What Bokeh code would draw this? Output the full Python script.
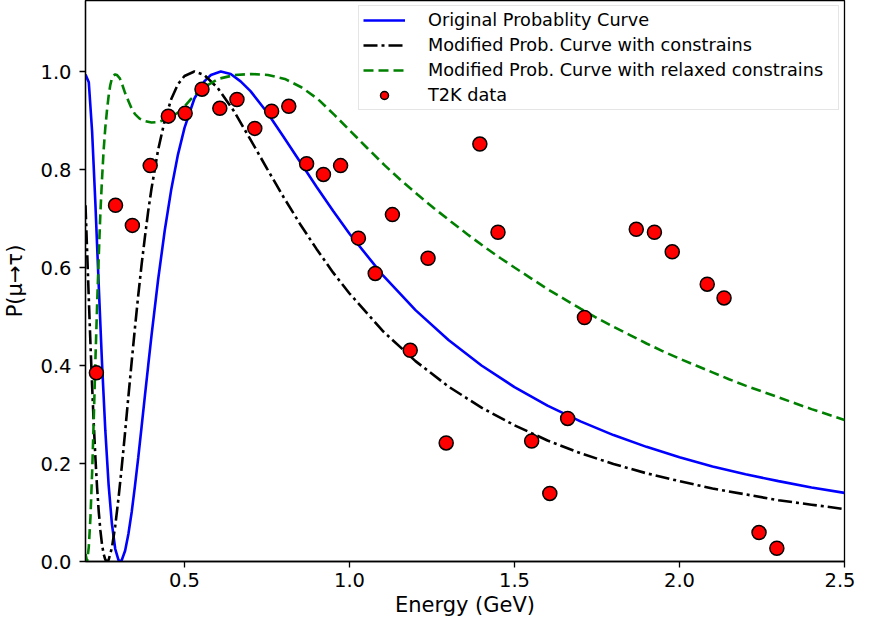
from bokeh.plotting import figure
from bokeh.models import FixedTicker, Range1d, PrintfTickFormatter
from bokeh.embed import file_html
from bokeh.resources import INLINE

# ---- data ----
energy_orig = [0.20, 0.21, 0.22, 0.23, 0.24, 0.25, 0.26, 0.27, 0.28, 0.29, 0.30, 0.305, 0.31,
               0.32, 0.33, 0.34, 0.35, 0.36, 0.37, 0.38, 0.39, 0.40, 0.42, 0.44, 0.46, 0.48,
               0.50, 0.53, 0.56, 0.58, 0.61, 0.64, 0.67, 0.70, 0.75, 0.80, 0.85, 0.90, 0.95,
               1.00, 1.10, 1.20, 1.30, 1.40, 1.50, 1.60, 1.70, 1.80, 1.90, 2.00, 2.10, 2.20,
               2.30, 2.40, 2.50]
prob_orig = [0.994, 0.978, 0.878, 0.730, 0.565, 0.406, 0.268, 0.157, 0.077, 0.026, 0.003, 0.000,
             0.003, 0.022, 0.056, 0.101, 0.155, 0.213, 0.275, 0.338, 0.400, 0.461, 0.575, 0.675,
             0.760, 0.830, 0.885, 0.945, 0.980, 0.993, 1.000, 0.995, 0.980, 0.960, 0.917, 0.867,
             0.816, 0.765, 0.716, 0.669, 0.585, 0.513, 0.452, 0.400, 0.356, 0.318, 0.286, 0.258,
             0.234, 0.213, 0.194, 0.178, 0.164, 0.151, 0.140]

energy_constr = [0.200, 0.205, 0.210, 0.215, 0.220, 0.225, 0.230, 0.235, 0.240, 0.245, 0.250,
                 0.255, 0.260, 0.265, 0.270, 0.28, 0.29, 0.30, 0.31, 0.32, 0.33, 0.34, 0.35,
                 0.36, 0.37, 0.38, 0.39, 0.40, 0.42, 0.44, 0.46, 0.48, 0.50, 0.53, 0.56, 0.60,
                 0.65, 0.70, 0.75, 0.80, 0.85, 0.90, 0.95, 1.00, 1.10, 1.20, 1.30, 1.40, 1.50,
                 1.60, 1.70, 1.80, 1.90, 2.00, 2.10, 2.20, 2.30, 2.40, 2.50]
prob_constr = [0.727, 0.632, 0.537, 0.445, 0.359, 0.281, 0.212, 0.152, 0.103, 0.064, 0.035,
               0.015, 0.004, 0.000, 0.003, 0.028, 0.072, 0.129, 0.194, 0.264, 0.337, 0.408,
               0.478, 0.544, 0.606, 0.662, 0.715, 0.761, 0.840, 0.900, 0.944, 0.974, 0.991,
               1.000, 0.993, 0.967, 0.919, 0.861, 0.802, 0.744, 0.689, 0.638, 0.590, 0.547,
               0.471, 0.409, 0.357, 0.314, 0.278, 0.247, 0.221, 0.199, 0.180, 0.164, 0.149,
               0.137, 0.125, 0.116, 0.107]

energy_relax = [0.200, 0.205, 0.210, 0.215, 0.220, 0.225, 0.230, 0.235, 0.240, 0.245, 0.250,
                0.255, 0.260, 0.265, 0.270, 0.275, 0.280, 0.285, 0.290, 0.295, 0.304, 0.312,
                0.320, 0.330, 0.340, 0.350, 0.364, 0.380, 0.400, 0.420, 0.440, 0.460, 0.490,
                0.520, 0.552, 0.602, 0.653, 0.703, 0.753, 0.804, 0.854, 0.904, 0.955, 1.005,
                1.055, 1.106, 1.156, 1.206, 1.256, 1.307, 1.357, 1.407, 1.458, 1.50, 1.55,
                1.60, 1.65, 1.70, 1.75, 1.80, 1.85, 1.90, 1.95, 2.00, 2.05, 2.10, 2.15, 2.20,
                2.25, 2.30, 2.35, 2.40, 2.45, 2.50]
prob_relax = [0.015, 0.000, 0.030, 0.090, 0.180, 0.290, 0.410, 0.520, 0.620, 0.710, 0.780,
              0.840, 0.885, 0.920, 0.950, 0.972, 0.986, 0.992, 0.994, 0.993, 0.986, 0.972,
              0.956, 0.940, 0.924, 0.913, 0.904, 0.899, 0.896, 0.897, 0.901, 0.907, 0.921,
              0.944, 0.965, 0.985, 0.993, 0.995, 0.993, 0.985, 0.968, 0.944, 0.911, 0.877,
              0.843, 0.809, 0.778, 0.749, 0.721, 0.694, 0.668, 0.643, 0.619, 0.600, 0.578,
              0.556, 0.536, 0.516, 0.497, 0.479, 0.462, 0.445, 0.429, 0.414, 0.400, 0.386,
              0.372, 0.359, 0.347, 0.335, 0.323, 0.311, 0.300, 0.289]

t2k_energy = [0.233, 0.291, 0.342, 0.396, 0.451, 0.502, 0.553, 0.607, 0.659, 0.713, 0.764,
              0.816, 0.870, 0.921, 0.973, 1.027, 1.078, 1.130, 1.184, 1.238, 1.293, 1.395,
              1.450, 1.552, 1.607, 1.661, 1.712, 1.869, 1.924, 1.978, 2.084, 2.135, 2.241, 2.295]
t2k_prob = [0.385, 0.727, 0.686, 0.808, 0.909, 0.915, 0.964, 0.925, 0.943, 0.884, 0.919,
            0.929, 0.812, 0.790, 0.808, 0.660, 0.588, 0.708, 0.431, 0.619, 0.242, 0.852,
            0.672, 0.246, 0.139, 0.292, 0.498, 0.678, 0.672, 0.632, 0.566, 0.538, 0.059, 0.027]

x_ticks = [0.5, 1.0, 1.5, 2.0, 2.5]
y_ticks = [0.0, 0.2, 0.4, 0.6, 0.8, 1.0]
x_title = "Energy (GeV)"
y_title = "P(μ→τ)"

FONT = "DejaVu Sans"

p = figure(width=855, height=619,
           min_border_left=82, min_border_right=11, min_border_top=0, min_border_bottom=55,
           x_range=Range1d(0.2, 2.5), y_range=Range1d(0.0, 1.145),
           output_backend="svg", toolbar_location=None,
           background_fill_color="white", border_fill_color="white")

p.line(energy_orig, prob_orig, line_color="#0000ff", line_width=2.6,
       legend_label="Original Probablity Curve")
p.line(energy_constr, prob_constr, line_color="black", line_width=2.6, line_dash="14 4 3 4",
       legend_label="Modified Prob. Curve with constrains")
p.line(energy_relax, prob_relax, line_color="#008000", line_width=2.6, line_dash="10 5",
       legend_label="Modified Prob. Curve with relaxed constrains")
p.scatter(t2k_energy, t2k_prob, size=14, fill_color="#ff0000", line_color="black",
          line_width=1.5, legend_label="T2K data")

p.xgrid.visible = False
p.ygrid.visible = False
p.outline_line_color = "black"
p.outline_line_width = 1.3

for ax in (p.xaxis[0], p.yaxis[0]):
    ax.axis_line_width = 1.3
    ax.axis_line_color = "black"
    ax.major_tick_line_color = "black"
    ax.major_tick_line_width = 1.3
    ax.major_tick_out = 6
    ax.major_tick_in = 0
    ax.minor_tick_line_color = None
    ax.major_label_text_font = FONT
    ax.major_label_text_font_size = "19.5px"
    ax.major_label_text_color = "black"
    ax.axis_label_text_font = FONT
    ax.axis_label_text_font_size = "21px"
    ax.axis_label_text_font_style = "normal"
    ax.axis_label_text_color = "black"
    ax.formatter = PrintfTickFormatter(format="%.1f")

p.xaxis[0].ticker = FixedTicker(ticks=x_ticks)
p.yaxis[0].ticker = FixedTicker(ticks=y_ticks)
p.xaxis[0].axis_label = x_title
p.yaxis[0].axis_label = y_title
p.xaxis[0].major_label_standoff = 5
p.yaxis[0].major_label_standoff = 8
p.xaxis[0].axis_label_standoff = 3
p.yaxis[0].axis_label_standoff = 10

lg = p.legend[0]
lg.location = "top_right"
lg.margin = 5
lg.padding = 4
lg.spacing = 5
lg.glyph_width = 42
lg.glyph_height = 20
lg.label_height = 20
lg.label_width = 406
lg.label_standoff = 23
lg.label_text_font = FONT
lg.label_text_font_size = "17.7px"
lg.label_text_color = "black"
lg.border_line_color = "#cccccc"
lg.border_line_width = 1.3
lg.background_fill_color = "white"
lg.background_fill_alpha = 0.8

open("out.html", "w").write(file_html(p, INLINE))
